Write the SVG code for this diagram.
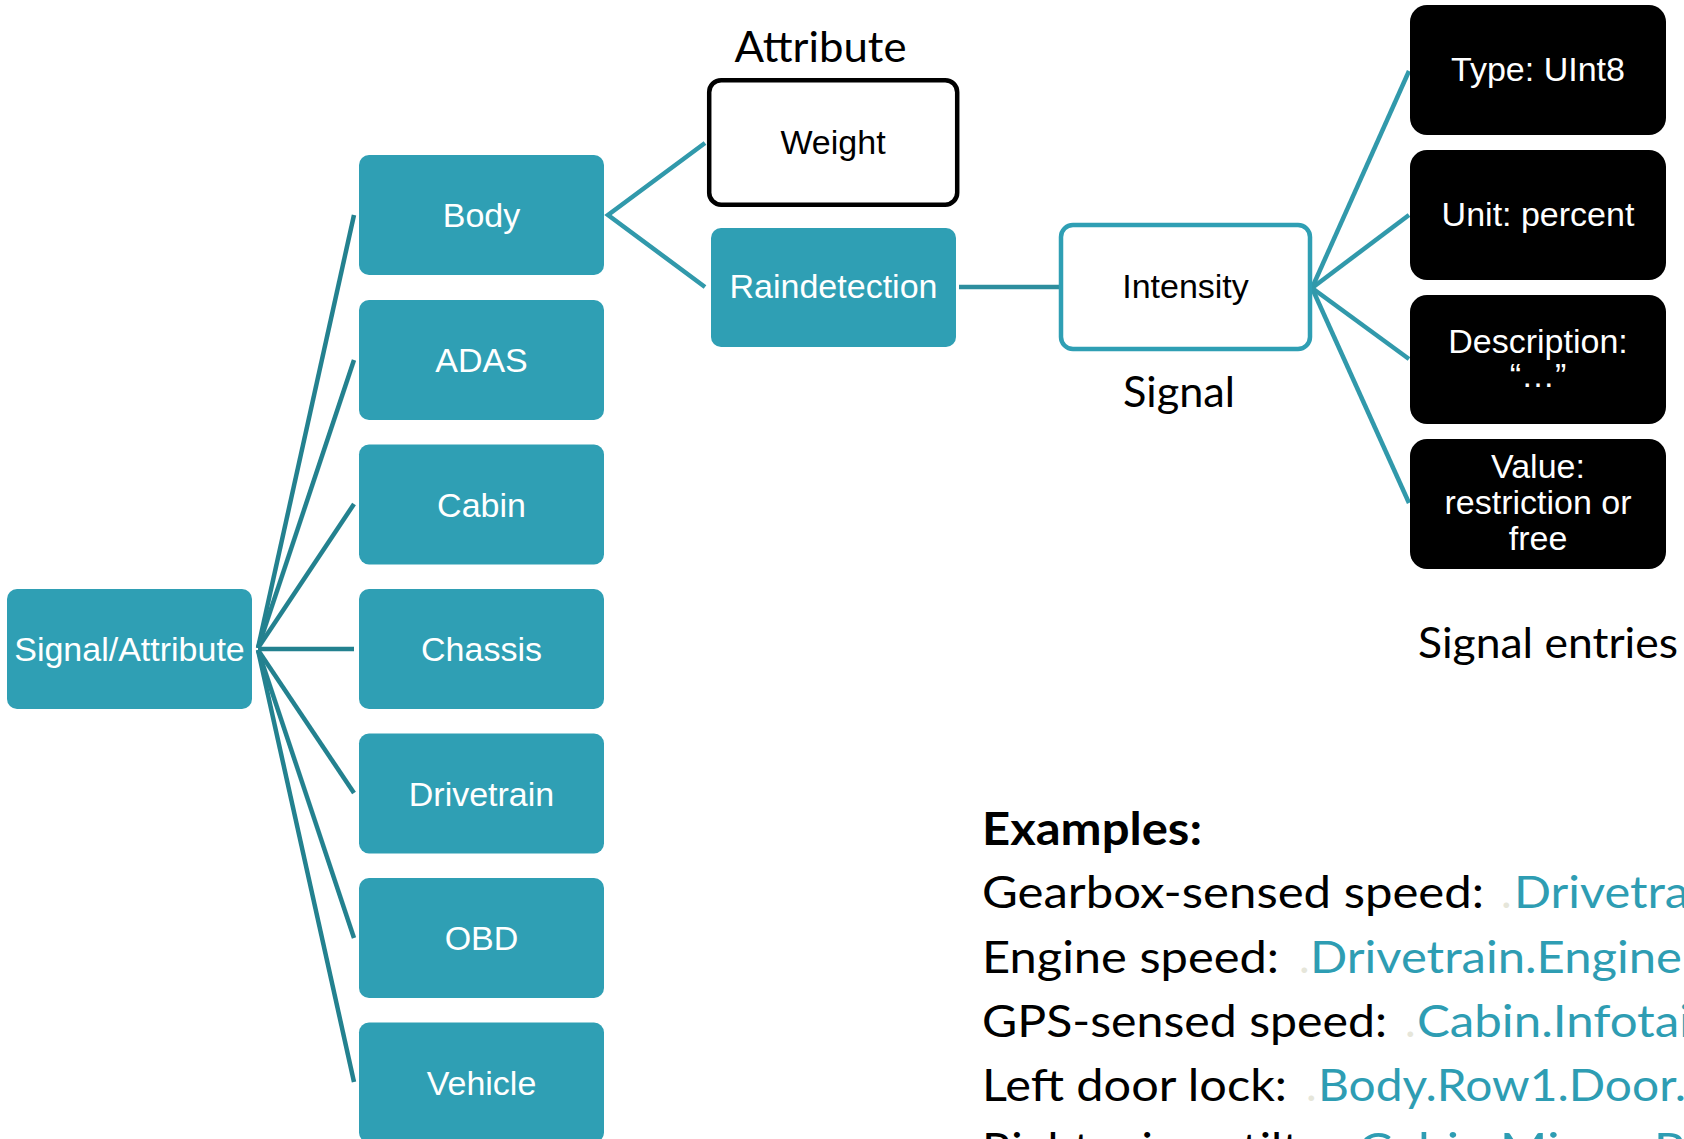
<svg xmlns="http://www.w3.org/2000/svg" width="1684" height="1139" viewBox="0 0 1684 1139">
<style>
.teal{fill:#2F9FB4;}
.blk{fill:#000;}
.bt{font-family:"Liberation Sans",Arial,sans-serif;font-size:34px;text-anchor:middle;}
.w{fill:#fff;}
.k{fill:#000;}
.cal{font-family:Lato,"Open Sans",sans-serif;fill:#000;}
.dark{stroke:#23818F;stroke-width:4.5;fill:none;}
.light{stroke:#3199AB;stroke-width:4.5;fill:none;}
.ex{font-family:Lato,"Open Sans",sans-serif;font-size:45px;}
.tt{fill:#2E9DB3;}
.dot{fill:#E6E6DA;}
</style>
<rect width="1684" height="1139" fill="#fff"/>
<g id="connectors">
<line class="dark" x1="258" y1="648" x2="354" y2="215"/>
<line class="dark" x1="258" y1="648" x2="354" y2="360"/>
<line class="dark" x1="258" y1="648" x2="354" y2="504"/>
<line class="dark" x1="258" y1="649" x2="354" y2="649"/>
<line class="dark" x1="258" y1="650" x2="354" y2="793"/>
<line class="dark" x1="258" y1="650" x2="354" y2="938"/>
<line class="dark" x1="258" y1="650" x2="354" y2="1082"/>
<polyline class="light" points="705,143 608,215 705,287"/>
<line stroke="#2D8E9E" stroke-width="4.5" x1="959" y1="287" x2="1059" y2="287"/>
<line class="light" x1="1312" y1="288" x2="1409" y2="71"/>
<line class="light" x1="1312" y1="288" x2="1409" y2="215"/>
<line class="light" x1="1312" y1="288" x2="1409" y2="359"/>
<line class="light" x1="1312" y1="288" x2="1409" y2="503"/>
</g>
<g id="root"><rect class="teal" x="7" y="589" width="245" height="120" rx="10"/><text class="bt w" x="129.5" y="661">Signal/Attribute</text></g>
<g id="body"><rect class="teal" x="359" y="155" width="245" height="120" rx="10"/><text class="bt w" x="481.5" y="227">Body</text></g>
<g id="adas"><rect class="teal" x="359" y="300" width="245" height="120" rx="10"/><text class="bt w" x="481.5" y="372">ADAS</text></g>
<g id="cabin"><rect class="teal" x="359" y="444.5" width="245" height="120" rx="10"/><text class="bt w" x="481.5" y="516.5">Cabin</text></g>
<g id="chassis"><rect class="teal" x="359" y="589" width="245" height="120" rx="10"/><text class="bt w" x="481.5" y="661">Chassis</text></g>
<g id="drivetrain"><rect class="teal" x="359" y="733.5" width="245" height="120" rx="10"/><text class="bt w" x="481.5" y="805.5">Drivetrain</text></g>
<g id="obd"><rect class="teal" x="359" y="878" width="245" height="120" rx="10"/><text class="bt w" x="481.5" y="950">OBD</text></g>
<g id="vehicle"><rect class="teal" x="359" y="1022.5" width="245" height="120" rx="10"/><text class="bt w" x="481.5" y="1094.5">Vehicle</text></g>
<g id="attribute-label"><text class="cal" x="734.5" y="62" font-size="43" textLength="172" lengthAdjust="spacingAndGlyphs">Attribute</text></g>
<g id="weight"><rect x="709.2" y="80.2" width="248" height="124.5" rx="12" fill="#fff" stroke="#000" stroke-width="4.5"/><text class="bt k" x="833" y="154">Weight</text></g>
<g id="raindetection"><rect class="teal" x="711" y="228" width="245" height="119" rx="10"/><text class="bt w" x="833.5" y="298">Raindetection</text></g>
<g id="intensity"><rect x="1061" y="225" width="249" height="124" rx="12" fill="#fff" stroke="#2F9FB4" stroke-width="4.5"/><text class="bt k" x="1185.5" y="298">Intensity</text></g>
<g id="signal-label"><text class="cal" x="1123" y="407" font-size="43" textLength="112" lengthAdjust="spacingAndGlyphs">Signal</text></g>
<g id="type"><rect class="blk" x="1410" y="5" width="256" height="130" rx="17"/><text class="bt w" x="1538" y="81">Type: UInt8</text></g>
<g id="unit"><rect class="blk" x="1410" y="150" width="256" height="130" rx="17"/><text class="bt w" x="1538" y="226">Unit: percent</text></g>
<g id="description"><rect class="blk" x="1410" y="295" width="256" height="129" rx="17"/><text class="bt w" x="1538" y="353">Description:</text><text class="bt w" x="1538" y="387">“…”</text></g>
<g id="value"><rect class="blk" x="1410" y="439" width="256" height="130" rx="17"/><text class="bt w" x="1538" y="478">Value:</text><text class="bt w" x="1538" y="514">restriction or</text><text class="bt w" x="1538" y="550">free</text></g>
<g id="entries-label"><text class="cal" x="1418" y="658" font-size="43" textLength="260" lengthAdjust="spacingAndGlyphs">Signal entries</text></g>
<g id="examples">
<text class="ex" x="982" y="845" font-weight="bold" textLength="220" lengthAdjust="spacingAndGlyphs">Examples:</text>
<text class="ex" x="982" y="908" textLength="502" lengthAdjust="spacingAndGlyphs">Gearbox-sensed speed:</text>
<text class="ex dot" x="1501" y="908">.</text>
<text class="ex tt" x="1514" y="908" textLength="175" lengthAdjust="spacingAndGlyphs">Drivetra</text>
<text class="ex" x="982" y="973" textLength="297" lengthAdjust="spacingAndGlyphs">Engine speed:</text>
<text class="ex dot" x="1299" y="973">.</text>
<text class="ex tt" x="1310" y="973" textLength="372" lengthAdjust="spacingAndGlyphs">Drivetrain.Engine</text>
<text class="ex" x="982" y="1037" textLength="405" lengthAdjust="spacingAndGlyphs">GPS-sensed speed:</text>
<text class="ex dot" x="1405" y="1037">.</text>
<text class="ex tt" x="1417" y="1037" textLength="274" lengthAdjust="spacingAndGlyphs">Cabin.Infotai</text>
<text class="ex" x="982" y="1101" textLength="305" lengthAdjust="spacingAndGlyphs">Left door lock:</text>
<text class="ex dot" x="1306" y="1101">.</text>
<text class="ex tt" x="1318" y="1101" textLength="368" lengthAdjust="spacingAndGlyphs">Body.Row1.Door.</text>
<text class="ex" x="982" y="1165" textLength="329" lengthAdjust="spacingAndGlyphs">Right mirror tilt:</text>
<text class="ex dot" x="1346" y="1165">.</text>
<text class="ex tt" x="1358" y="1165" textLength="340" lengthAdjust="spacingAndGlyphs">Cabin.Mirror.Ri</text>
</g>
</svg>
